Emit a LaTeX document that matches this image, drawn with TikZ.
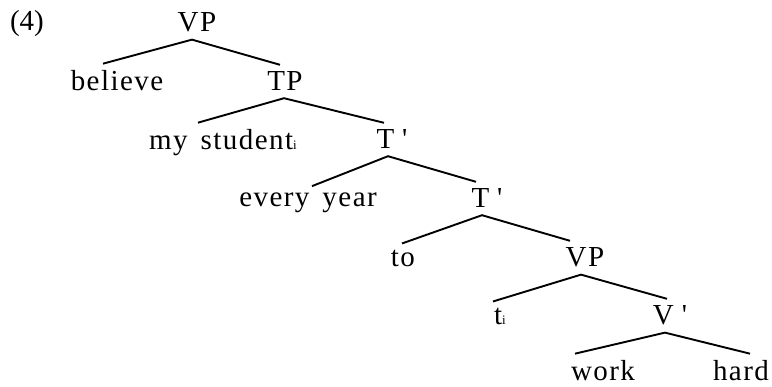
\documentclass[tikz,border=0pt]{standalone}
\usepackage{fontspec}
\setmainfont{Liberation Serif}
\newfontfamily\treefont{Liberation Serif}[LetterSpace=5]
\newcommand{\coindex}[1]{{\fontsize{13}{13}\selectfont #1}}
\tikzset{
  cat/.style={anchor=base, inner xsep=0pt, inner ysep=7pt,
    font=\treefont\fontsize{29}{33}\selectfont},
  exnum/.style={anchor=base, inner sep=0pt, font=\fontsize{29}{33}\selectfont},
  branch/.style={line width=1.9pt},
}

\begin{document}
\begin{tikzpicture}[x=1pt, y=-1pt]

  \useasboundingbox (0,0) rectangle (772,387);

  % example number
  \node[exnum] (ex) at (27,31) {(4)};

  % labels, top to bottom
  \node[cat] (vp)      at (197,32)  {VP};
  \node[cat] (believe) at (117,91)  {believe};
  \node[cat] (tp)      at (285,91)  {TP};
  \node[cat] (subj)    at (223,150) {my\hspace{13pt}student\coindex{i}};
  \node[cat] (tbar)    at (392,149) {T\hspace{8pt}\textquotesingle};
  \node[cat] (adv)     at (308,207) {every\hspace{13pt}year};
  \node[cat] (tbarb)   at (487,208) {T\hspace{8pt}\textquotesingle};
  \node[cat] (to)      at (403,267) {to};
  \node[cat] (vpb)     at (585,267) {VP};
  \node[cat] (trace)   at (500,325) {t\coindex{i}};
  \node[cat] (vbar)    at (670,325) {V\hspace{8pt}\textquotesingle};
  \node[cat] (work)    at (603,381) {work};
  \node[cat] (hard)    at (741,381) {hard};

  % branches
  \draw[branch] ([xshift=-14pt]believe.north) -- ([xshift=-5pt]vp.south) -- ([xshift=-5pt]tp.north);
  \draw[branch] ([xshift=-25pt]subj.north) -- ([xshift=-1pt]tp.south) -- ([xshift=-8pt]tbar.north);
  \draw[branch] ([xshift=4pt]adv.north) -- ([xshift=-4pt]tbar.south) -- ([xshift=-11pt]tbarb.north);
  \draw[branch] ([xshift=-1pt]to.north) -- ([xshift=-5pt]tbarb.south) -- ([xshift=-15pt]vpb.north);
  \draw[branch] ([xshift=-7pt]trace.north) -- ([xshift=-4pt]vpb.south) -- ([xshift=-3pt]vbar.north);
  \draw[branch] ([xshift=-28pt]work.north) -- ([xshift=-5pt]vbar.south) -- ([xshift=9pt]hard.north);

\end{tikzpicture}
\end{document}
